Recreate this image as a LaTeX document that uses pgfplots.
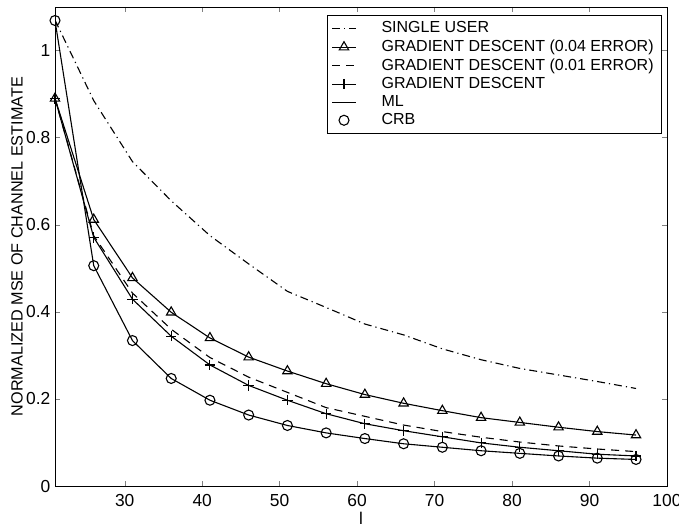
\documentclass[border=0pt]{standalone}
\usepackage{fontspec}
\setmainfont{Liberation Sans}
\usepackage{pgfplots}
\pgfplotsset{compat=1.18}
\begin{document}
\begin{tikzpicture}
\begin{axis}[
  width=306pt, height=239.5pt, scale only axis,
  xmin=21, xmax=100, ymin=0, ymax=1.1,
  xtick={30,40,50,60,70,80,90,100},
  ytick={0,0.2,0.4,0.6,0.8,1},
  tick align=inside, tick pos=both,
  major tick length=2.5pt,
  /pgf/number format/assume math mode=true,
  tick label style={font=\fontsize{8.7}{10}\selectfont},
  yticklabel style={xshift=1.2pt},
  xticklabel style={yshift=-0.5pt},
  xlabel={l}, ylabel={NORMALIZED MSE OF CHANNEL ESTIMATE},
  every axis x label/.style={at={(axis description cs:0.5,0)}, anchor=center, yshift=-16pt, font=\fontsize{8.5}{9}\selectfont},
  every axis y label/.style={at={(axis description cs:-0.062,0.5)}, anchor=center, rotate=90, font=\fontsize{8.1}{9}\selectfont},
  every axis plot/.append style={line width=0.55pt, black},
  legend cell align=left,
  legend style={at={(0.992,0.983)}, anchor=north east, draw=black, line width=0.5pt,
    font=\fontsize{8}{9}\selectfont, row sep=-2pt, inner xsep=2pt, inner ysep=1pt},
  legend image code/.code={\draw[mark repeat=2,mark phase=2,#1] plot coordinates {(0pt,0pt) (6pt,0pt) (12pt,0pt)}; \path (22.5pt,0pt);},
]
\addplot[dash pattern=on 4pt off 2pt on 0.6pt off 2pt] coordinates {
(21,1.07) (26,0.885) (31,0.745) (36,0.655) (41,0.575) (46,0.51) (51,0.447) (56,0.41)
(61,0.372) (66,0.347) (71,0.315) (76,0.29) (81,0.27) (86,0.255) (91,0.24) (96,0.224)};
\addlegendentry{SINGLE USER}
\addplot[solid, mark=triangle, mark size=2.7pt] coordinates {
(21,0.89) (26,0.612) (31,0.478) (36,0.399) (41,0.340) (46,0.296) (51,0.264) (56,0.235)
(61,0.21) (66,0.19) (71,0.173) (76,0.157) (81,0.146) (86,0.135) (91,0.125) (96,0.117)};
\addlegendentry{GRADIENT DESCENT (0.04 ERROR)}
\addplot[dash pattern=on 4pt off 3pt] coordinates {
(21,0.89) (26,0.575) (31,0.443) (36,0.36) (41,0.295) (46,0.25) (51,0.215) (56,0.18)
(61,0.16) (66,0.14) (71,0.125) (76,0.112) (81,0.101) (86,0.092) (91,0.085) (96,0.079)};
\addlegendentry{GRADIENT DESCENT (0.01 ERROR)}
\addplot[solid, mark=+, mark size=2.6pt] coordinates {
(21,0.89) (26,0.571) (31,0.429) (36,0.344) (41,0.278) (46,0.231) (51,0.197) (56,0.166)
(61,0.143) (66,0.127) (71,0.113) (76,0.099) (81,0.089) (86,0.081) (91,0.073) (96,0.069)};
\addlegendentry{GRADIENT DESCENT}
\addplot[solid] coordinates {
(21,1.069) (26,0.506) (31,0.334) (36,0.247) (41,0.197) (46,0.163) (51,0.139) (56,0.122)
(61,0.109) (66,0.097) (71,0.089) (76,0.081) (81,0.075) (86,0.069) (91,0.064) (96,0.061)};
\addlegendentry{ML}
\addplot[only marks, mark=o, mark size=2.5pt] coordinates {
(21,1.069) (26,0.506) (31,0.334) (36,0.247) (41,0.197) (46,0.163) (51,0.139) (56,0.122)
(61,0.109) (66,0.097) (71,0.089) (76,0.081) (81,0.075) (86,0.069) (91,0.064) (96,0.061)};
\addlegendentry{CRB}
\end{axis}
\pgfresetboundingbox
\path[use as bounding box] ([shift={(-27.5pt,-19.5pt)}]current axis.south west) rectangle ([shift={(6pt,3.5pt)}]current axis.north east);
\end{tikzpicture}
\end{document}
